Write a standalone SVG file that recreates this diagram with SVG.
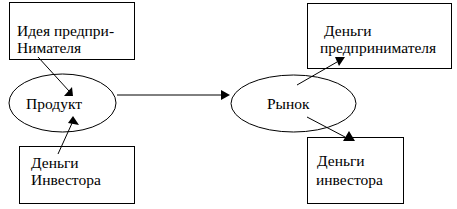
<svg xmlns="http://www.w3.org/2000/svg" width="457" height="209" viewBox="0 0 457 209">
<style>
.box{fill:#fff;stroke:#000;stroke-width:1}
.ell{fill:#fff;stroke:#000;stroke-width:1}
.ln{stroke:#000;stroke-width:1;fill:none}
.head{fill:#000;stroke:none}
</style>
<rect width="457" height="209" fill="#fff"/>
<g font-family="Liberation Serif, DejaVu Serif, serif" font-size="15.5" fill="#000">
<g id="idea">
<rect class="box" x="9.5" y="2.5" width="125" height="57"/>
<text x="17" y="36">Идея предпри-</text>
<text x="17" y="53">Нимателя</text>
</g>
<g id="investor-money">
<rect class="box" x="19.5" y="146.5" width="115" height="57"/>
<text x="31" y="168">Деньги</text>
<text x="31" y="185">Инвестора</text>
</g>
<g id="entrepreneur-money">
<rect class="box" x="307.5" y="3.5" width="144" height="65"/>
<text x="324" y="36">Деньги</text>
<text x="320" y="53">предпринимателя</text>
</g>
<g id="investor-money-out">
<rect class="box" x="307.5" y="137.5" width="96" height="66"/>
<text x="317" y="166">Деньги</text>
<text x="316" y="185">инвестора</text>
</g>
<g id="product">
<ellipse class="ell" cx="62.5" cy="103" rx="53.5" ry="29"/>
<text x="26" y="109">Продукт</text>
</g>
<g id="market">
<ellipse class="ell" cx="293.5" cy="103.5" rx="62.5" ry="28.5"/>
<text x="267" y="109">Рынок</text>
</g>
</g>
<g id="connectors">
<line class="ln" x1="38" y1="57" x2="69" y2="91"/>
<polygon class="head" points="64,96 73,96 72,87"/>
<line class="ln" x1="58" y1="154" x2="73" y2="121"/>
<polygon class="head" points="73,116 68,123 79,125"/>
<line class="ln" x1="117" y1="95" x2="222" y2="95"/>
<polygon class="head" points="230,95 221,90 221,100"/>
<line class="ln" x1="297" y1="85" x2="337" y2="62"/>
<polygon class="head" points="335,57 345,57 339,66"/>
<line class="ln" x1="307" y1="117" x2="345" y2="137"/>
<polygon class="head" points="349,131 343,141 355,141"/>
</g>
</svg>
